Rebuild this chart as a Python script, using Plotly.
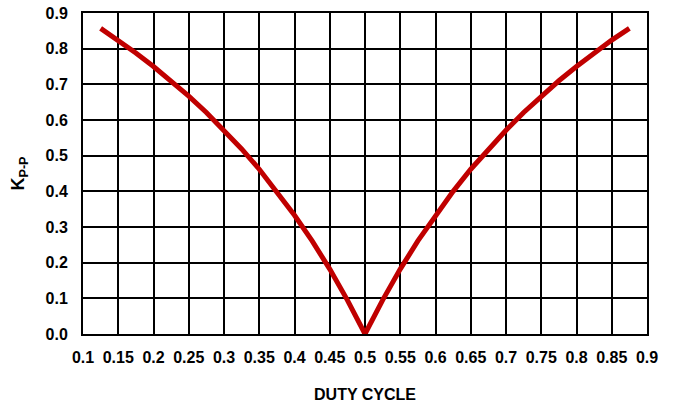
import plotly.graph_objects as go

# Peak-to-peak ripple factor versus duty cycle
duty_cycle = [0.125, 0.15, 0.175, 0.2, 0.225, 0.25, 0.275, 0.3, 0.325, 0.35,
              0.375, 0.4, 0.425, 0.45, 0.475, 0.5,
              0.525, 0.55, 0.575, 0.6, 0.625, 0.65, 0.675, 0.7, 0.725,
              0.75, 0.775, 0.8, 0.825, 0.85, 0.875]
k_pp = [0.857, 0.824, 0.788, 0.750, 0.710, 0.667, 0.621, 0.571, 0.519, 0.462,
        0.400, 0.333, 0.261, 0.182, 0.095, 0.0,
        0.095, 0.182, 0.261, 0.333, 0.400, 0.462, 0.519, 0.571, 0.621,
        0.667, 0.710, 0.750, 0.788, 0.824, 0.857]

x_ticks = [0.1, 0.15, 0.2, 0.25, 0.3, 0.35, 0.4, 0.45, 0.5,
           0.55, 0.6, 0.65, 0.7, 0.75, 0.8, 0.85, 0.9]
x_tick_text = ["0.1", "0.15", "0.2", "0.25", "0.3", "0.35", "0.4", "0.45", "0.5",
               "0.55", "0.6", "0.65", "0.7", "0.75", "0.8", "0.85", "0.9"]
y_ticks = [0.0, 0.1, 0.2, 0.3, 0.4, 0.5, 0.6, 0.7, 0.8, 0.9]
y_tick_text = ["0.0", "0.1", "0.2", "0.3", "0.4", "0.5", "0.6", "0.7", "0.8", "0.9"]

font_family = "Liberation Sans, Arial, sans-serif"
tick_font = dict(family=font_family, size=16, color="black", weight="bold")

fig = go.Figure()
fig.add_trace(go.Scatter(
    x=duty_cycle, y=k_pp, mode="lines",
    line=dict(color="#C00000", width=5),
    showlegend=False,
))

axis_common = dict(
    showgrid=True, gridcolor="black", gridwidth=2,
    showline=True, linecolor="black", linewidth=2, mirror=True,
    ticks="", zeroline=False, tickfont=tick_font, automargin=False,
)

fig.update_layout(
    width=673, height=406,
    margin=dict(l=83, r=26, t=13, b=72),
    paper_bgcolor="white", plot_bgcolor="white",
    font=dict(family=font_family, size=16, color="black"),
    xaxis=dict(
        range=[0.1, 0.9], tickmode="array", tickvals=x_ticks,
        ticktext=x_tick_text,
        ticklabelstandoff=8,
        title=dict(text="<b>DUTY CYCLE</b>", standoff=24,
                   font=dict(family=font_family, size=16, color="black")),
        **axis_common,
    ),
    yaxis=dict(
        range=[0, 0.9], tickmode="array", tickvals=y_ticks,
        ticktext=y_tick_text,
        ticklabelstandoff=10,
        title=dict(text="<b>K<sub>P-P</sub></b>", standoff=16,
                   font=dict(family=font_family, size=18, color="black")),
        **axis_common,
    ),
)

fig.write_html("out.html")
